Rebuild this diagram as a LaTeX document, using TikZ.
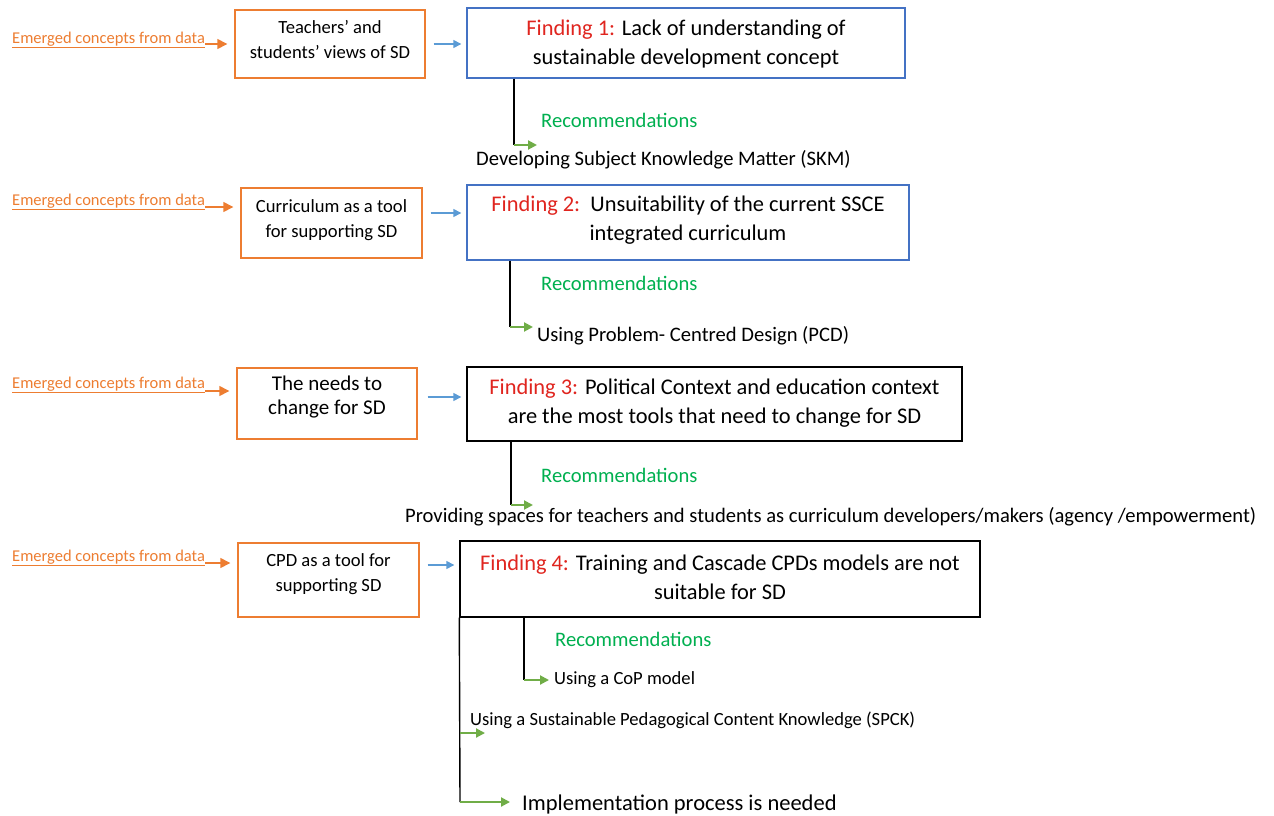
\documentclass[tikz,border=0pt]{standalone}
\usepackage{fontspec}
\setmainfont{Carlito}
\usetikzlibrary{arrows.meta}
\definecolor{korange}{HTML}{ED7D31}
\definecolor{kblue}{HTML}{4472C4}
\definecolor{kblarrow}{HTML}{5B9BD5}
\definecolor{kred}{HTML}{E0251F}
\definecolor{kgreen}{HTML}{00B050}
\definecolor{kgrarrow}{HTML}{70AD47}
\newcommand{\fs}[2]{\fontsize{#1pt}{#2pt}\selectfont}
\newcommand{\finding}[1]{\textcolor{kred}{#1}}
\begin{document}
\begin{tikzpicture}[x=1pt,y=-1pt,
  obox/.style={draw=korange, line width=1.4pt, inner sep=0pt},
  bbox/.style={draw=kblue, line width=1.4pt, inner sep=0pt},
  kbox/.style={draw=black, line width=1.4pt, inner sep=0pt},
  emtext/.style={text=korange, anchor=west, inner sep=0pt, font=\fs{16.5}{18}},
  smtext/.style={align=center, inner sep=0pt, font=\fs{18.6}{25}},
  fdtext/.style={align=center, inner sep=0pt, font=\fs{22.4}{29}},
  rectext/.style={text=kgreen, anchor=west, inner sep=0pt, font=\fs{20.6}{22}},
  itemtext/.style={anchor=west, inner sep=0pt, font=\fs{20.6}{22}},
  oarr/.style={draw=korange, line width=1.4pt, -{Triangle[length=10pt,width=10pt]}},
  barr/.style={draw=kblarrow, line width=1.4pt, -{Triangle[length=8pt,width=8pt]}},
  garr/.style={draw=kgrarrow, line width=2pt, -{Triangle[length=9pt,width=9pt]}},
  kline/.style={draw=black, line width=1.4pt}
]
\useasboundingbox[fill=white] (0,0) rectangle (1274,816);

% ---------- Row 1 ----------
\node[emtext] (e1) at (12,40) {\underline{Emerged concepts from data}};
\node[obox, minimum width=190pt, minimum height=68pt] (o1) at (330,44) {};
\node[smtext] (o1t) at (330,39.5) {Teachers’ and\\students’ views of SD};
\node[bbox, minimum width=438pt, minimum height=70pt] (f1) at (686,43) {};
\node[fdtext] (f1t) at (686,44) {\finding{Finding 1:} Lack of understanding of\\sustainable development concept};
\draw[oarr, shorten >=7pt] ([yshift=-4pt]e1.east) -- ([yshift=-4pt]e1.east -| o1.west);
\draw[barr, shorten <=8pt, shorten >=5pt] (o1.east) -- (o1.east -| f1.west);
\node[rectext] (r1) at (541,120) {Recommendations};
\node[itemtext] (i1) at (476,160) {Developing Subject Knowledge Matter (SKM)};
\coordinate (k1) at (514,145);
\coordinate (g1) at (537,145);
\draw[kline] (k1 |- f1.south) -- (k1);
\draw[garr] (k1) -- (g1);

% ---------- Row 2 ----------
\node[emtext] (e2) at (12,202) {\underline{Emerged concepts from data}};
\node[obox, minimum width=181pt, minimum height=70pt] (o2) at (331.5,223) {};
\node[smtext] (o2t) at (331.5,220) {Curriculum as a tool\\for supporting SD};
\node[bbox, minimum width=442pt, minimum height=75pt] (f2) at (688,222.5) {};
\node[fdtext] (f2t) at (688,220) {\finding{Finding 2:}\ \ Unsuitability of the current SSCE\\integrated curriculum};
\draw[oarr, shorten >=7pt] ([yshift=-5pt]e2.east) -- ([yshift=-5pt]e2.east -| o2.west);
\draw[barr, shorten <=8pt, shorten >=5pt] ([yshift=10pt]o2.east) -- ([yshift=10pt]o2.east -| f2.west);
\node[rectext] (r2) at (541,283) {Recommendations};
\node[itemtext] (i2) at (537,336) {Using Problem- Centred Design (PCD)};
\coordinate (k2) at (510,327);
\coordinate (g2) at (533,327);
\draw[kline] (k2 |- f2.south) -- (k2);
\draw[garr] (k2) -- (g2);

% ---------- Row 3 ----------
\node[emtext] (e3) at (12,385) {\underline{Emerged concepts from data}};
\node[obox, minimum width=180pt, minimum height=71pt] (o3) at (327,403.5) {};
\node[smtext, font=\fs{21}{24}] (o3t) at (327,397) {The needs to\\change for SD};
\node[kbox, minimum width=495pt, minimum height=74pt] (f3) at (714.5,404) {};
\node[fdtext] (f3t) at (714.5,403) {\finding{Finding 3:} Political Context and education context\\are the most tools that need to change for SD};
\draw[oarr, shorten >=7pt] ([yshift=-6pt]e3.east) -- ([yshift=-6pt]e3.east -| o3.west);
\draw[barr, shorten <=10pt, shorten >=5pt] ([yshift=6.5pt]o3.east) -- ([yshift=6.5pt]o3.east -| f3.west);
\node[rectext] (r3) at (541,475) {Recommendations};
\node[itemtext] (i3) at (405,517) {Providing spaces for teachers and students as curriculum developers/makers (agency /empowerment)};
\coordinate (k3) at (511,505);
\coordinate (g3) at (533,505);
\draw[kline] (k3 |- f3.south) -- (k3);
\draw[garr] (k3) -- (g3);

% ---------- Row 4 ----------
\node[emtext] (e4) at (12,558) {\underline{Emerged concepts from data}};
\node[obox, minimum width=181pt, minimum height=74pt] (o4) at (328.5,580) {};
\node[smtext] (o4t) at (328.5,574.5) {CPD as a tool for\\supporting SD};
\node[kbox, minimum width=520pt, minimum height=76pt] (f4) at (720,579) {};
\node[fdtext] (f4t) at (720,577) {\finding{Finding 4:} Training and Cascade CPDs models are not\\suitable for SD};
\draw[oarr, shorten >=7pt] ([yshift=-5pt]e4.east) -- ([yshift=-5pt]e4.east -| o4.west);
\draw[barr, shorten <=8pt, shorten >=5pt] ([yshift=15pt]o4.east) -- ([yshift=15pt]o4.east -| f4.west);
\node[rectext] (r4) at (555,639) {Recommendations};
\node[itemtext, font=\fs{18.6}{20}] (i4a) at (554,680) {Using a CoP model};
\node[itemtext, font=\fs{18.6}{20}] (i4b) at (470,720) {Using a Sustainable Pedagogical Content Knowledge (SPCK)};
\node[itemtext, font=\fs{22.5}{24}] (i4c) at (522,804) {Implementation process is needed};
\coordinate (k4) at (524,680);
\coordinate (g4) at (549,680);
\draw[kline] (k4 |- f4.south) -- (k4);
\draw[garr] (k4) -- (g4);
\coordinate (k5) at (460,733);
\coordinate (g5) at (485,733);
\coordinate (k6) at (460,802);
\coordinate (g6) at (510,802);
\draw[kline] (f4.south west) -- (k6);
\draw[garr] (k5) -- (g5);
\draw[garr] (k6) -- (g6);
\end{tikzpicture}
\end{document}
